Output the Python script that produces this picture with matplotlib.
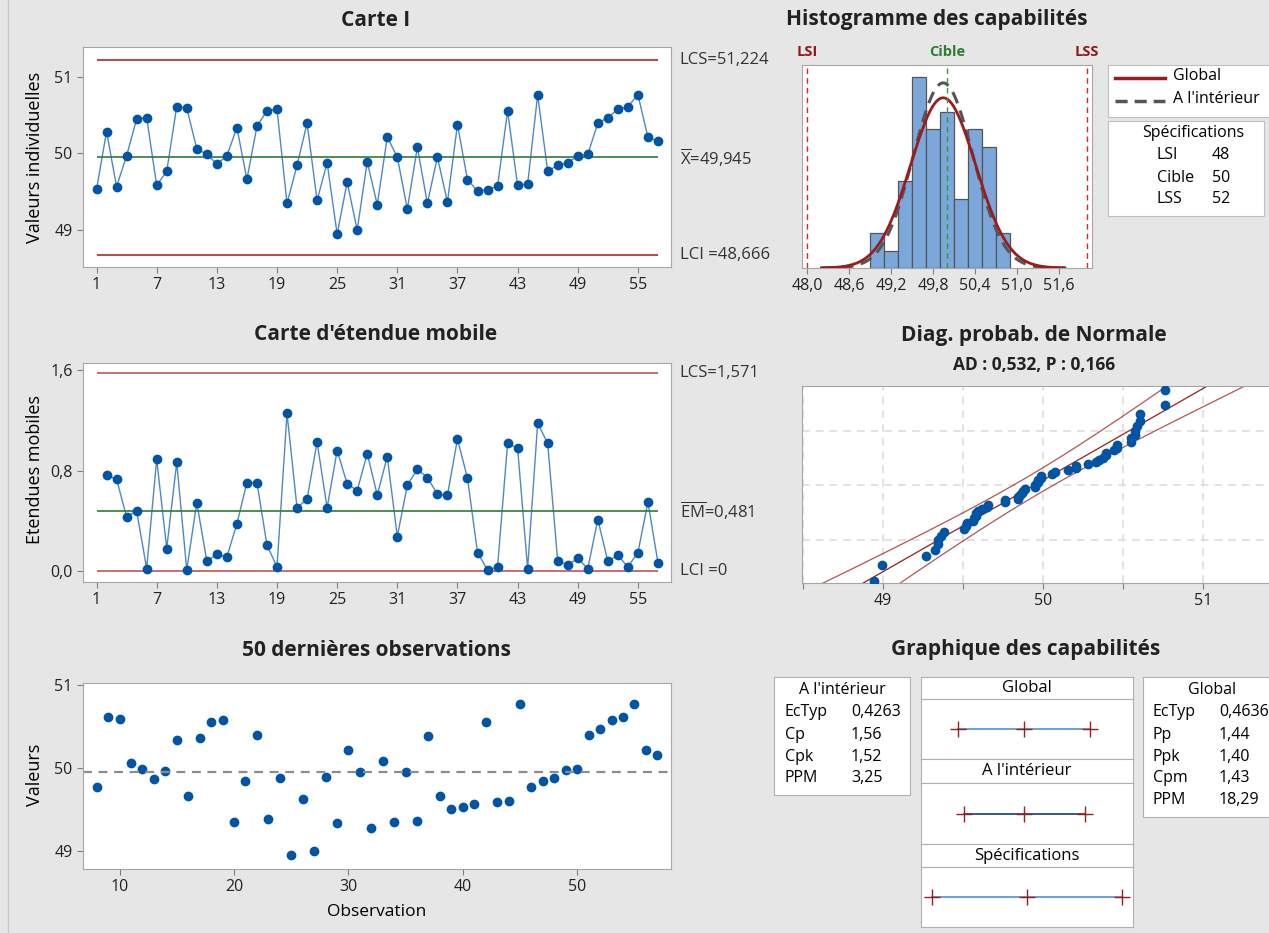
import numpy as np
import matplotlib
matplotlib.use("Agg")
import matplotlib.pyplot as plt
from matplotlib.lines import Line2D
from statistics import NormalDist

plt.rcParams['font.family'] = ['Open Sans', 'DejaVu Sans']
plt.rcParams['mathtext.fontset'] = 'custom'
plt.rcParams['mathtext.rm'] = 'Open Sans'

# individual values, observations 1..57
ivals = [49.528, 50.284, 49.563, 49.969, 50.445, 50.467, 49.581, 49.764, 50.611, 50.590,
         50.057, 49.987, 49.860, 49.965, 50.336, 49.659, 50.354, 50.555, 50.576, 49.345,
         49.843, 50.393, 49.384, 49.878, 48.943, 49.624, 48.996, 49.890, 49.328, 50.210,
         49.952, 49.271, 50.079, 49.345, 49.952, 49.362, 50.376, 49.655, 49.507, 49.524,
         49.568, 50.555, 49.581, 49.598, 50.764, 49.764, 49.843, 49.873, 49.969, 49.987,
         50.393, 50.467, 50.576, 50.611, 50.764, 50.210, 50.157]
# moving ranges, observations 2..57
mrvals = [0.765, 0.730, 0.432, 0.478, 0.022, 0.889, 0.181, 0.865, 0.011, 0.546,
          0.081, 0.135, 0.114, 0.378, 0.705, 0.705, 0.208, 0.035, 1.254, 0.503,
          0.573, 1.027, 0.503, 0.959, 0.695, 0.641, 0.935, 0.605, 0.911, 0.276,
          0.684, 0.811, 0.743, 0.614, 0.603, 1.049, 0.741, 0.149, 0.011, 0.035,
          1.016, 0.978, 0.022, 1.176, 1.016, 0.081, 0.049, 0.103, 0.022, 0.411,
          0.081, 0.127, 0.035, 0.149, 0.549, 0.068]

xbar, i_ucl, i_lcl = 49.945, 51.224, 48.666
mr_bar, mr_ucl, mr_lcl = 0.481, 1.571, 0.0
sd_within, sd_overall = 0.4263, 0.4636
lsl, target, usl = 48.0, 50.0, 52.0

i_xticks = [1, 7, 13, 19, 25, 31, 37, 43, 49, 55]
hist_ticks = [48.0, 48.6, 49.2, 49.8, 50.4, 51.0, 51.6]
hist_ticklabels = ['48,0', '48,6', '49,2', '49,8', '50,4', '51,0', '51,6']
hist_bins = [48.9, 49.1, 49.3, 49.5, 49.7, 49.9, 50.1, 50.3, 50.5, 50.7, 50.9]

within_rows = [('EcTyp', '0,4263'), ('Cp', '1,56'), ('Cpk', '1,52'), ('PPM', '3,25')]
overall_rows = [('EcTyp', '0,4636'), ('Pp', '1,44'), ('Ppk', '1,40'), ('Cpm', '1,43'), ('PPM', '18,29')]

BG = '#e6e6e6'
DOT = '#0054a6'
LINK = '#4f86c6'
RED = '#b0272b'
GREEN = '#2e7d32'
FRAME = '#a6a6a6'
DARKRED = '#9b1c1c'
TXT = 11.5

W, H = 1269, 933
fig = plt.figure(figsize=(W / 100, H / 100), dpi=100, facecolor=BG)


def axes_px(l, t, r, b):
    return fig.add_axes([l / W, 1 - b / H, (r - l) / W, (b - t) / H])


def text_px(x, y, s, **kw):
    kw.setdefault('va', 'center')
    fig.text(x / W, 1 - y / H, s, **kw)


def style(ax):
    for sp in ax.spines.values():
        sp.set_color(FRAME)
    ax.tick_params(colors='#7f7f7f', labelcolor='#222222', labelsize=TXT, length=4)


def title(x, y, s):
    text_px(x, y, s, ha='center', fontsize=15, fontweight='bold', color='#222222')


fig.add_artist(Line2D([8 / W, 8 / W], [0, 1], color='#c8c8c8', lw=1))

obs = np.arange(1, len(ivals) + 1)
mr_obs = np.arange(2, len(ivals) + 1)

# ---- Carte I
ax1 = axes_px(83, 47, 671, 267)
style(ax1)
ax1.plot(obs, ivals, color=LINK, lw=1, zorder=2)
ax1.plot(obs, ivals, 'o', color=DOT, ms=6, zorder=3)
ax1.hlines([i_ucl, i_lcl], 1, 57, color=RED, lw=1.2)
ax1.hlines(xbar, 1, 57, color=GREEN, lw=1.2)
ax1.set_xlim(-0.35, 58.3)
ax1.set_ylim(48.514, 51.389)
ax1.set_xticks(i_xticks)
ax1.set_yticks([49, 50, 51])
tr = ax1.get_yaxis_transform()
ax1.text(1.015, i_ucl, 'LCS=51,224', transform=tr, va='center', fontsize=12, color='#333333')
ax1.text(1.015, xbar, '$\\overline{\\mathrm{X}}$=49,945', transform=tr, va='center', fontsize=12, color='#333333')
ax1.text(1.015, i_lcl, 'LCI =48,666', transform=tr, va='center', fontsize=12, color='#333333')
title(376, 20, 'Carte I')
text_px(35, 157, 'Valeurs individuelles', ha='center', rotation=90, fontsize=13)

# ---- Carte d'etendue mobile
ax2 = axes_px(83, 363, 671, 582)
style(ax2)
ax2.plot(mr_obs, mrvals, color=LINK, lw=1, zorder=2)
ax2.plot(mr_obs, mrvals, 'o', color=DOT, ms=6, zorder=3)
ax2.hlines([mr_ucl, mr_lcl], 1, 57, color=RED, lw=1.2, alpha=0.8)
ax2.hlines(mr_bar, 1, 57, color=GREEN, lw=1.2)
ax2.set_xlim(-0.35, 58.3)
ax2.set_ylim(-0.085, 1.654)
ax2.set_xticks(i_xticks)
ax2.set_yticks([0, 0.8, 1.6])
ax2.set_yticklabels(['0,0', '0,8', '1,6'])
tr = ax2.get_yaxis_transform()
ax2.text(1.015, mr_ucl, 'LCS=1,571', transform=tr, va='center', fontsize=12, color='#333333')
ax2.text(1.015, mr_bar, '$\\overline{\\mathrm{EM}}$=0,481', transform=tr, va='center', fontsize=12, color='#333333')
ax2.text(1.015, mr_lcl, 'LCI =0', transform=tr, va='center', fontsize=12, color='#333333')
title(376, 335, "Carte d'étendue mobile")
text_px(35, 470, 'Etendues mobiles', ha='center', rotation=90, fontsize=13)

# ---- 50 dernieres observations
ax3 = axes_px(83, 683, 671, 869)
style(ax3)
ax3.plot(obs[7:], ivals[7:], 'o', color=DOT, ms=6)
ax3.axhline(xbar, color='#8c8c8c', lw=1.6, ls=(0, (4, 3)))
ax3.set_xlim(6.8, 58.2)
ax3.set_ylim(48.78, 51.02)
ax3.set_xticks([10, 20, 30, 40, 50])
ax3.set_yticks([49, 50, 51])
title(376, 650, '50 dernières observations')
text_px(35, 775, 'Valeurs', ha='center', rotation=90, fontsize=13)
text_px(377, 912, 'Observation', ha='center', fontsize=12.5)

# ---- Histogramme des capabilites
ax4 = axes_px(802, 65, 1092, 268)
style(ax4)
ax4.hist(ivals, bins=hist_bins, color='#7ba7db', edgecolor='#555555', lw=0.9, zorder=2)
bw = hist_bins[1] - hist_bins[0]
xs = np.linspace(xbar - 3.75 * sd_overall, xbar + 3.75 * sd_overall, 300)
n = len(ivals)
for sd, col, ls, lw in [(sd_within, '#555555', (0, (4, 2.5)), 2.2), (sd_overall, DARKRED, '-', 2.0)]:
    pdf = np.exp(-0.5 * ((xs - xbar) / sd) ** 2) / (sd * np.sqrt(2 * np.pi))
    ax4.plot(xs, pdf * n * bw, color=col, ls=ls, lw=lw, zorder=3)
ax4.axvline(lsl, color='#e0202a', ls=(0, (4, 3)), lw=1)
ax4.axvline(usl, color='#e0202a', ls=(0, (4, 3)), lw=1)
ax4.axvline(target, color='#2e9a3e', ls=(0, (4, 3)), lw=1, zorder=4)
ax4.set_xlim(47.929, 52.071)
ax4.set_ylim(0, 11.7)
ax4.set_xticks(hist_ticks)
ax4.set_xticklabels(hist_ticklabels)
ax4.set_yticks([])
tr = ax4.get_xaxis_transform()
ax4.text(lsl, 1.065, 'LSI', transform=tr, ha='center', va='center', color='#8b1a1a', fontsize=10.5, fontweight='bold')
ax4.text(target, 1.065, 'Cible', transform=tr, ha='center', va='center', color='#2e7d32', fontsize=10.5, fontweight='bold')
ax4.text(usl, 1.065, 'LSS', transform=tr, ha='center', va='center', color='#8b1a1a', fontsize=10.5, fontweight='bold')
title(937, 20, 'Histogramme des capabilités')

# legend box
axl = axes_px(1108, 65, 1280, 117)
axl.set_xticks([]); axl.set_yticks([])
for sp in axl.spines.values():
    sp.set_color('#c0c0c0')
fig.add_artist(Line2D([1115 / W, 1165 / W], [1 - 78 / H] * 2, color=DARKRED, lw=2.5))
fig.add_artist(Line2D([1115 / W, 1165 / W], [1 - 101 / H] * 2, color='#555555', lw=2.5, ls=(0, (3.5, 2))))
text_px(1173, 76, 'Global', fontsize=TXT)
text_px(1173, 99, "A l'intérieur", fontsize=TXT)

# specifications box
axs = axes_px(1108, 121, 1264, 216)
axs.set_xticks([]); axs.set_yticks([])
for sp in axs.spines.values():
    sp.set_color('#c0c0c0')
text_px(1193, 133, 'Spécifications', ha='center', fontsize=TXT)
for (lab, val), y in zip([('LSI', '48'), ('Cible', '50'), ('LSS', '52')], [155, 178, 199]):
    text_px(1157, y, lab, fontsize=TXT)
    text_px(1212, y, val, fontsize=TXT)

# ---- Diag. probab. de Normale
ax5 = axes_px(802, 386, 1290, 583)
style(ax5)
ax5.spines['right'].set_visible(False)
srt = np.sort(ivals)
nd = NormalDist()
zq = np.array([nd.inv_cdf((i - 0.3) / (n + 0.4)) for i in range(1, n + 1)])
zz = np.linspace(-2.5, 2.5, 200)
fit = xbar + zz * sd_overall
half = 1.96 * sd_overall * np.sqrt(1 / n + zz ** 2 / (2 * (n - 1)))
ax5.plot(fit, zz, color=DARKRED, lw=0.9, zorder=2)
ax5.plot(fit - half * 1.08, zz, color=DARKRED, lw=0.9, alpha=0.75, zorder=2)
ax5.plot(fit + half, zz, color=DARKRED, lw=0.9, alpha=0.75, zorder=2)
ax5.plot(srt, zq, 'o', color=DOT, ms=6, zorder=3)
ax5.set_xlim(48.496, 51.546)
ax5.set_ylim(-2.30, 2.34)
ax5.set_xticks([48.5, 49, 49.5, 50, 50.5, 51, 51.5])
ax5.set_xticklabels(['', '49', '', '50', '', '51', ''])
ax5.set_yticks([-1.2816, 0, 1.2816])
ax5.set_yticklabels([])
ax5.tick_params(axis='y', length=0)
ax5.grid(True, color='#dadada', ls=(0, (5, 4)), lw=1.1)
ax5.set_axisbelow(True)
title(1034, 336, 'Diag. probab. de Normale')
text_px(1034, 365, 'AD : 0,532, P : 0,166', ha='center', fontsize=12.5, fontweight='bold', color='#222222')

# ---- Graphique des capabilites
title(1026, 650, 'Graphique des capabilités')


def box(l, t, r, b):
    ax = axes_px(l, t, r, b)
    ax.set_xticks([]); ax.set_yticks([])
    for sp in ax.spines.values():
        sp.set_color('#b0b0b0')
    return ax


box(774, 677, 910, 795)
text_px(842, 690, "A l'intérieur", ha='center', fontsize=TXT)
for (lab, val), y in zip(within_rows, [712, 735, 757, 778]):
    text_px(785, y, lab, fontsize=TXT)
    text_px(851, y, val, fontsize=TXT)

box(1143, 677, 1285, 817)
text_px(1212, 690, 'Global', ha='center', fontsize=TXT)
for (lab, val), y in zip(overall_rows, [712, 735, 757, 778, 800]):
    text_px(1153, y, lab, fontsize=TXT)
    text_px(1219, y, val, fontsize=TXT)

intervals = [
    ('Global', (xbar - 3 * sd_overall, xbar, xbar + 3 * sd_overall), '#5b9bd5', (677, 699, 759)),
    ("A l'intérieur", (xbar - 3 * sd_within, xbar, xbar + 3 * sd_within), '#1f4e8c', (759, 783, 844)),
    ('Spécifications', (lsl, target, usl), '#5b9bd5', (844, 867, 927)),
]
for name, pts, col, (t, m, b) in intervals:
    box(921, t, 1133, m)
    text_px(1027, (t + m) / 2, name, ha='center', fontsize=12)
    axc = box(921, m, 1133, b)
    axc.set_xlim(47.77, 52.23)
    axc.set_ylim(-1, 1)
    axc.plot([pts[0], pts[2]], [0, 0], color=col, lw=1.3)
    axc.plot(pts, [0, 0, 0], '+', color=DARKRED, ms=12, mew=1.0)

fig.savefig('out.png', dpi=100, facecolor=BG)
